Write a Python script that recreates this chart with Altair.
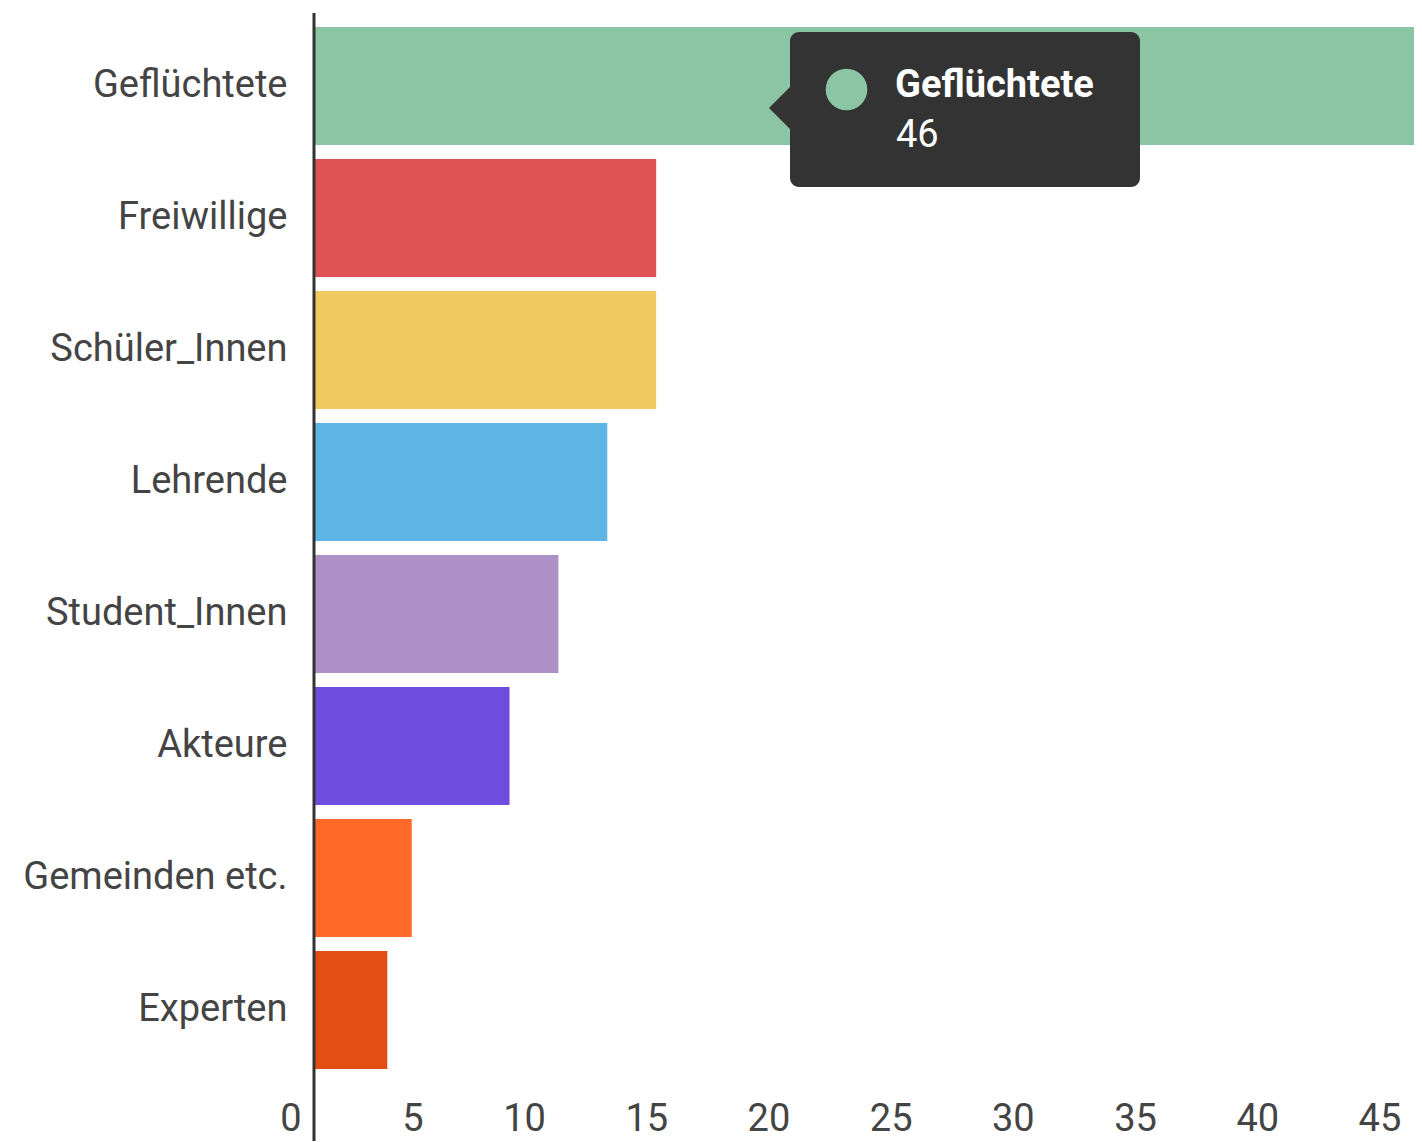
import altair as alt
import pandas as pd

categories = ["Geflüchtete", "Freiwillige", "Schüler_Innen", "Lehrende",
              "Student_Innen", "Akteure", "Gemeinden etc.", "Experten"]
values = [46, 14, 14, 12, 10, 8, 4, 3]
colors = ["#8CC5A3", "#DE5155", "#F0C960", "#5DB5E6",
          "#AC90C6", "#6E4CDE", "#FF6A2B", "#E34E14"]
x_ticks = [0, 5, 10, 15, 20, 25, 30, 35, 40, 45]

tip_label = "Geflüchtete"
tip_value = "46"

df = pd.DataFrame({"cat": categories, "val": values})

W = 1100
H = 1056
FONT = "Roboto"

x_scale = alt.Scale(domain=[0, W / 24.44], nice=False, zero=True)
y_scale = alt.Scale(domain=categories, paddingInner=0.106, paddingOuter=0.053)
x_axis = alt.Axis(values=x_ticks, title=None, domain=False, grid=False,
                  ticks=False, labelAlign="right", labelOffset=-13,
                  labelBaseline="middle", labelPadding=43,
                  labelFlush=False, labelFont=FONT, labelFontSize=38,
                  labelColor="#444444")

bars = alt.Chart(df).mark_bar(clip=True).encode(
    x=alt.X("val:Q", scale=x_scale, axis=x_axis),
    y=alt.Y("cat:N", scale=y_scale, sort=categories,
            axis=alt.Axis(title=None, domain=False, grid=False, ticks=False,
                          labelPadding=27, labelFont=FONT, labelFontSize=38,
                          labelColor="#444444", labelLimit=400)),
    color=alt.Color("cat:N", scale=alt.Scale(domain=categories, range=colors),
                    legend=None),
)

axis_line = alt.Chart(pd.DataFrame({"val": [0]})).mark_rule(
    color="#333333", strokeWidth=3).encode(
    x=alt.X("val:Q", scale=x_scale, axis=x_axis),
    y=alt.value(-7), y2=alt.value(H + 80))

tip_df = pd.DataFrame({"label": [tip_label], "value": [tip_value]})
base_tip = alt.Chart(tip_df)

tip_box = base_tip.mark_rect(color="#333333", cornerRadius=9).encode(
    x=alt.value(476), x2=alt.value(826), y=alt.value(12), y2=alt.value(167))
tip_arrow = base_tip.mark_point(
    shape="M -1 0 L 0 -1 L 0 1 Z", filled=True, opacity=1, color="#333333",
    size=2116, strokeWidth=0).encode(x=alt.value(478), y=alt.value(88))
tip_dot = base_tip.mark_point(
    shape="circle", filled=True, opacity=1, color=colors[0], size=1735,
    strokeWidth=0).encode(x=alt.value(532.5), y=alt.value(69.5))
tip_title = base_tip.mark_text(
    font=FONT, fontSize=38, fontWeight="bold", color="white", align="left",
    baseline="alphabetic").encode(
    x=alt.value(581), y=alt.value(77), text="label:N")
tip_val = base_tip.mark_text(
    font=FONT, fontSize=38, color="white", align="left",
    baseline="alphabetic").encode(
    x=alt.value(582), y=alt.value(127), text="value:N")

chart = alt.layer(bars, axis_line, tip_box, tip_arrow, tip_dot, tip_title,
                  tip_val).properties(
    width=W, height=H,
    background="white",
    autosize=alt.AutoSizeParams(type="none"),
    padding={"left": 306, "top": 12, "right": 0, "bottom": 65},
).configure_view(stroke="transparent", strokeWidth=0)

chart.save("out.html", embed_options={"renderer": "svg", "actions": False})
